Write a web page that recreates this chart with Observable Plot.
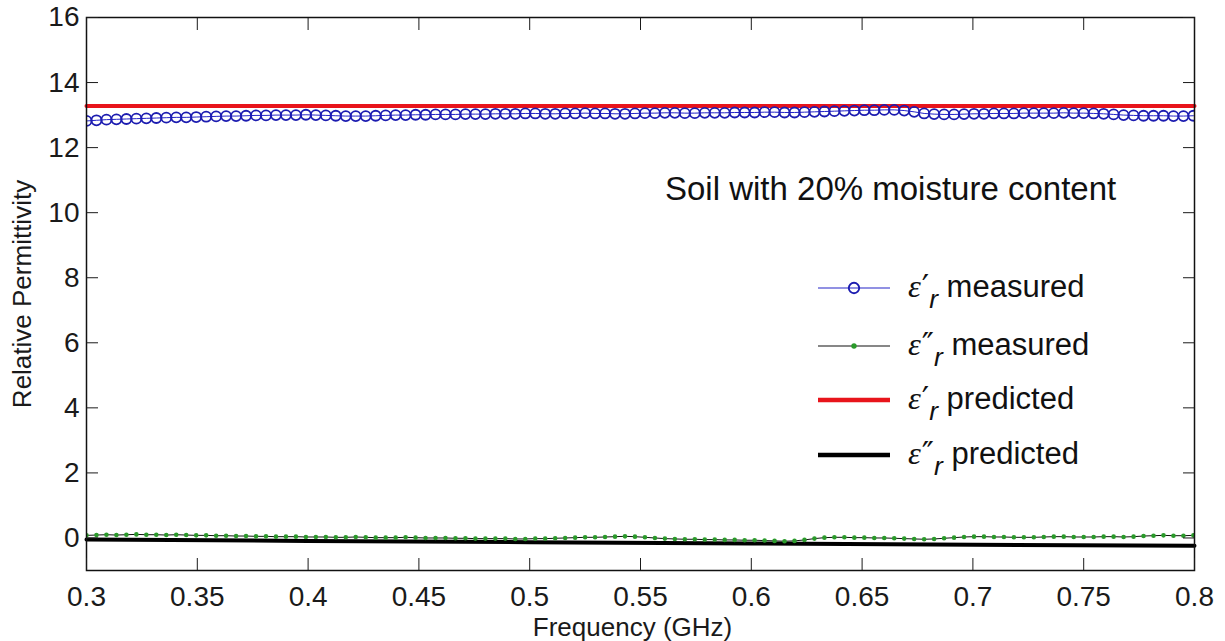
<!DOCTYPE html>
<html>
<head>
<meta charset="utf-8">
<script src="https://cdn.jsdelivr.net/npm/d3@7"></script>
<script src="https://cdn.jsdelivr.net/npm/@observablehq/plot@0.6"></script>
<style>
  html, body { margin: 0; padding: 0; background: #fff; }
  #wrap { position: relative; width: 1225px; height: 641px; font-family: "Liberation Sans", Arial, sans-serif; color: #111; }
  #wrap svg { display: block; }
  .note { position: absolute; left: 665px; top: 169px; font-size: 33px; line-height: 40px; white-space: nowrap; }
  .row { position: absolute; left: 818px; height: 40px; width: 340px; }
  .row svg { position: absolute; left: 0; top: 2px; }
  .lab { position: absolute; left: 90px; top: 0; line-height: 40px; font-size: 31px; white-space: nowrap; }
  .eps { font-family: "Liberation Serif", "DejaVu Serif", serif; font-style: italic; font-size: 1.05em; }
  .pr { font-family: "DejaVu Sans", sans-serif; font-size: 1.05em; margin-left: 1px; }
  .sb { font-style: italic; font-size: 0.85em; vertical-align: -0.42em; }
</style>
</head>
<body>
<div id="wrap"></div>
<script>
// ---- data ----
const freq = [
  0.3, 0.3045, 0.309, 0.3135, 0.318, 0.3225, 0.327, 0.3315,
  0.336, 0.3405, 0.345, 0.3495, 0.354, 0.3585, 0.363, 0.3675,
  0.372, 0.3765, 0.381, 0.3855, 0.39, 0.3945, 0.399, 0.4035,
  0.408, 0.4125, 0.417, 0.4215, 0.426, 0.4305, 0.435, 0.4395,
  0.444, 0.4485, 0.453, 0.4575, 0.462, 0.4665, 0.471, 0.4755,
  0.48, 0.4845, 0.489, 0.4935, 0.498, 0.5025, 0.507, 0.5115,
  0.516, 0.5205, 0.525, 0.5295, 0.534, 0.5385, 0.543, 0.5475,
  0.552, 0.5565, 0.561, 0.5655, 0.57, 0.5745, 0.579, 0.5835,
  0.588, 0.5925, 0.597, 0.6015, 0.606, 0.6105, 0.615, 0.6195,
  0.624, 0.6285, 0.633, 0.6375, 0.642, 0.6465, 0.651, 0.6555,
  0.66, 0.6645, 0.669, 0.6735, 0.678, 0.6825, 0.687, 0.6915,
  0.696, 0.7005, 0.705, 0.7095, 0.714, 0.7185, 0.723, 0.7275,
  0.732, 0.7365, 0.741, 0.7455, 0.75, 0.7545, 0.759, 0.7635,
  0.768, 0.7725, 0.777, 0.7815, 0.786, 0.7905, 0.795, 0.7995
];
const epsRealMeasured = [
  12.82, 12.84, 12.86, 12.87, 12.88, 12.89, 12.90, 12.91,
  12.92, 12.93, 12.93, 12.94, 12.95, 12.96, 12.97, 12.97,
  12.98, 12.99, 12.99, 13.00, 13.00, 13.00, 13.01, 13.00,
  12.99, 12.98, 12.97, 12.97, 12.97, 12.98, 12.99, 13.00,
  13.00, 13.01, 13.01, 13.02, 13.02, 13.02, 13.03, 13.03,
  13.03, 13.04, 13.04, 13.04, 13.05, 13.05, 13.04, 13.04,
  13.05, 13.05, 13.06, 13.05, 13.05, 13.04, 13.04, 13.05,
  13.06, 13.06, 13.07, 13.07, 13.06, 13.06, 13.07, 13.07,
  13.07, 13.08, 13.08, 13.08, 13.09, 13.09, 13.08, 13.08,
  13.09, 13.10, 13.11, 13.12, 13.13, 13.14, 13.15, 13.15,
  13.16, 13.16, 13.14, 13.10, 13.05, 13.03, 13.02, 13.02,
  13.03, 13.04, 13.04, 13.05, 13.05, 13.05, 13.06, 13.06,
  13.06, 13.06, 13.07, 13.06, 13.06, 13.05, 13.04, 13.02,
  13.00, 12.99, 12.98, 12.98, 12.98, 12.97, 12.97, 12.98
];
const epsImagMeasured = [
  0.08, 0.09, 0.10, 0.09, 0.10, 0.11, 0.10, 0.10,
  0.09, 0.10, 0.09, 0.08, 0.08, 0.07, 0.07, 0.06,
  0.06, 0.05, 0.05, 0.04, 0.04, 0.04, 0.03, 0.03,
  0.03, 0.02, 0.02, 0.03, 0.02, 0.01, 0.01, 0.01,
  0.02, 0.01, 0.00, 0.00, 0.00, -0.01, -0.01, -0.02,
  -0.02, -0.02, -0.02, -0.03, -0.03, -0.02, -0.02, -0.01,
  0.00, 0.01, 0.02, 0.02, 0.03, 0.04, 0.05, 0.04,
  0.02, 0.00, -0.02, -0.03, -0.04, -0.04, -0.05, -0.05,
  -0.06, -0.06, -0.07, -0.07, -0.08, -0.09, -0.10, -0.09,
  -0.06, -0.02, 0.01, 0.02, 0.02, 0.01, 0.01, 0.00,
  0.00, -0.01, -0.02, -0.03, -0.04, -0.03, -0.01, 0.01,
  0.03, 0.04, 0.04, 0.03, 0.03, 0.02, 0.02, 0.02,
  0.03, 0.04, 0.04, 0.03, 0.03, 0.03, 0.04, 0.04,
  0.03, 0.04, 0.06, 0.07, 0.08, 0.07, 0.07, 0.08
];
const freqPredicted = [0.3, 0.4, 0.5, 0.6, 0.7, 0.8];
const epsRealPredicted = [13.28, 13.28, 13.28, 13.28, 13.28, 13.28];
const epsImagPredicted = [-0.05, -0.09, -0.13, -0.17, -0.21, -0.24];
const xTicks = [0.3, 0.35, 0.4, 0.45, 0.5, 0.55, 0.6, 0.65, 0.7, 0.75, 0.8];
const yTicks = [0, 2, 4, 6, 8, 10, 12, 14, 16];
const xLabel = "Frequency (GHz)";
const yLabel = "Relative Permittivity";
const noteText = "Soil with 20% moisture content";

// ---- tables ----
const measured = freq.map((f, i) => ({f, re: epsRealMeasured[i], im: epsImagMeasured[i]}));
const predicted = freqPredicted.map((f, i) => ({f, re: epsRealPredicted[i], im: epsImagPredicted[i]}));

const chart = Plot.plot({
  width: 1225,
  height: 641,
  marginLeft: 86,
  marginRight: 31,
  marginTop: 17,
  marginBottom: 71,
  x: {domain: [0.3, 0.8]},
  y: {domain: [-1, 16]},
  style: {fontFamily: "'Liberation Sans', Arial, sans-serif", fontSize: "28px", color: "#1a1a1a", background: "white"},
  marks: [
    Plot.lineY(predicted, {x: "f", y: "re", stroke: "#e8141b", strokeWidth: 4}),
    Plot.lineY(predicted, {x: "f", y: "im", stroke: "#000", strokeWidth: 4}),
    Plot.lineY(measured, {x: "f", y: "re", stroke: "#2424c8", strokeWidth: 1}),
    Plot.dot(measured, {x: "f", y: "re", r: 5, stroke: "#1c1cb0", strokeWidth: 1.8, fill: "none", clip: true}),
    Plot.lineY(measured, {x: "f", y: "im", stroke: "#111", strokeWidth: 1}),
    Plot.dot(measured, {x: "f", y: "im", r: 2.3, fill: "#2a9a2a", stroke: "none", clip: true}),
    Plot.frame({stroke: "#111", strokeWidth: 1.5}),
    Plot.axisX({ticks: xTicks, tickSize: -12, tickPadding: 28, tickFormat: d3.format("~g"), label: null}),
    Plot.axisX({anchor: "top", ticks: xTicks, tickSize: -12, tickFormat: () => "", label: null}),
    Plot.axisY({ticks: yTicks, tickSize: -12, tickPadding: 19, label: null}),
    Plot.axisY({anchor: "right", ticks: yTicks, tickSize: -12, tickFormat: () => "", label: null}),
    Plot.text([xLabel], {frameAnchor: "bottom", dy: 57, dx: -8, fontSize: 26, lineAnchor: "middle", fill: "#1a1a1a"}),
    Plot.text([yLabel], {frameAnchor: "left", dx: -64, rotate: -90, fontSize: 26, textAnchor: "middle", lineAnchor: "middle", fill: "#1a1a1a"})
  ]
});

const wrap = document.getElementById("wrap");
wrap.appendChild(chart);

// annotation
const note = document.createElement("div");
note.className = "note";
note.textContent = noteText;
wrap.appendChild(note);

// legend
const legendItems = [
  {prime: "\u2032", text: "measured", kind: "circle"},
  {prime: "\u2033", text: "measured", kind: "dot"},
  {prime: "\u2032", text: "predicted", kind: "red"},
  {prime: "\u2033", text: "predicted", kind: "black"}
];
const rowCenters = [288, 346, 400, 455];
legendItems.forEach((it, i) => {
  const row = document.createElement("div");
  row.className = "row";
  row.style.top = (rowCenters[i] - 22) + "px";
  let sw = "";
  if (it.kind === "circle") sw = '<line x1="0" x2="72" y1="20" y2="20" stroke="#2424c8" stroke-width="1.2"/><circle cx="36" cy="20" r="5.2" fill="none" stroke="#1c1cb0" stroke-width="1.9"/>';
  if (it.kind === "dot") sw = '<line x1="0" x2="72" y1="20" y2="20" stroke="#111" stroke-width="1.2"/><circle cx="36" cy="20" r="2.7" fill="#2a9a2a"/>';
  if (it.kind === "red") sw = '<line x1="0" x2="72" y1="20" y2="20" stroke="#e8141b" stroke-width="4.5"/>';
  if (it.kind === "black") sw = '<line x1="0" x2="72" y1="20" y2="20" stroke="#000" stroke-width="4.5"/>';
  row.innerHTML = '<svg width="74" height="40">' + sw + '</svg>' +
    '<div class="lab"><span class="eps">\u03b5</span><span class="pr">' + it.prime +
    '</span><span class="sb">r</span> ' + it.text + '</div>';
  wrap.appendChild(row);
});
</script>
</body>
</html>
